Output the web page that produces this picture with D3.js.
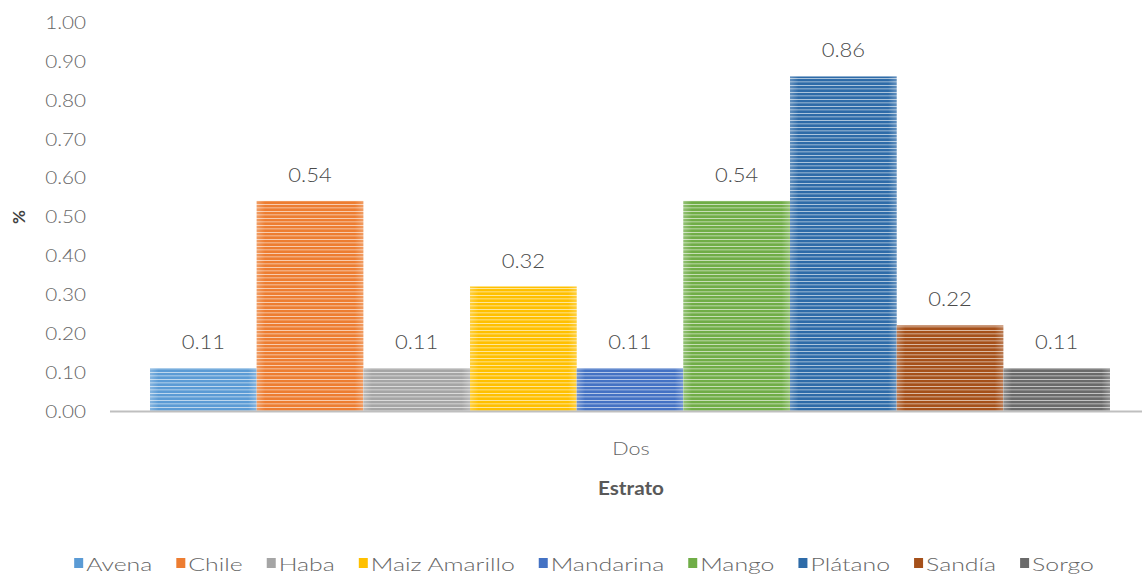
<!DOCTYPE html>
<html><head><meta charset="utf-8">
<script src="https://cdn.jsdelivr.net/npm/d3@7"></script>
<style>body{margin:0;background:#fff}svg{display:block;font-family:Lato,"Open Sans",sans-serif;font-weight:300}</style>
</head><body><svg id="c" width="1145" height="576"></svg>
<script>
const category = ["Dos"];
const seriesNames = ["Avena","Chile","Haba","Maiz Amarillo","Mandarina","Mango","Plátano","Sandía","Sorgo"];
const seriesValues = [0.11,0.54,0.11,0.32,0.11,0.54,0.86,0.22,0.11];
const seriesColors = ["#5B9BD5","#ED7D31","#A5A5A5","#FFC000","#4472C4","#70AD47","#2E6BA8","#A5501A","#6A6A6A"];
const yTicks = [0,0.1,0.2,0.3,0.4,0.5,0.6,0.7,0.8,0.9,1.0];

(function(){
const svg = d3.select("#c");
const axLeft = 110, axRight = 1142, barLeft = 150, barRight = 1110, mTop = 22, mBottom = 411;
const y = d3.scaleLinear().domain([0,1]).range([mBottom, mTop]);
const x0 = d3.scaleBand().domain(category).range([barLeft,barRight]).padding(0);
const x1 = d3.scaleBand().domain(seriesNames).range([0, x0.bandwidth()]).padding(0);

const defs = svg.append("defs");
seriesColors.forEach((c,i)=>{
  const p = defs.append("pattern").attr("id","p"+i).attr("patternUnits","userSpaceOnUse")
    .attr("width",10).attr("height",7);
  p.append("rect").attr("width",10).attr("height",7).attr("fill",c);
  p.append("rect").attr("y",1).attr("width",10).attr("height",1).attr("fill","#fff").attr("opacity",0.6);
  p.append("rect").attr("y",4).attr("width",10).attr("height",1.5).attr("fill","#fff").attr("opacity",0.35);
  const gr = defs.append("linearGradient").attr("id","g"+i).attr("x1",0).attr("x2",1).attr("y1",0).attr("y2",0);
  gr.append("stop").attr("offset",0).attr("stop-color","#fff").attr("stop-opacity",0.25);
  gr.append("stop").attr("offset",0.08).attr("stop-color","#fff").attr("stop-opacity",0);
  gr.append("stop").attr("offset",0.92).attr("stop-color","#fff").attr("stop-opacity",0);
  gr.append("stop").attr("offset",1).attr("stop-color","#fff").attr("stop-opacity",0.25);
});

const yAxis = d3.axisLeft(y).tickValues(yTicks).tickFormat(d3.format(".2f")).tickSize(0).tickPadding(0);
const ga = svg.append("g").attr("transform",`translate(86,0)`).call(yAxis);
ga.select(".domain").remove();
ga.selectAll("text").attr("fill","#666").attr("x",0).attr("dy","0.35em")
  .style("font-size","18px").style("font-family","Lato").style("font-weight","300").attr("transform","scale(1.15,1)");

const g = svg.append("g").attr("transform",`translate(${x0("Dos")},0)`);
g.selectAll("rect.bar").data(seriesNames).join("rect").attr("class","bar")
  .attr("x",d=>x1(d)).attr("width",x1.bandwidth())
  .attr("y",(d,i)=>y(seriesValues[i])).attr("height",(d,i)=>mBottom-y(seriesValues[i]))
  .attr("fill",(d,i)=>`url(#p${i})`);
g.selectAll("rect.sheen").data(seriesNames).join("rect").attr("class","sheen")
  .attr("x",d=>x1(d)).attr("width",x1.bandwidth())
  .attr("y",(d,i)=>y(seriesValues[i])).attr("height",(d,i)=>mBottom-y(seriesValues[i]))
  .attr("fill",(d,i)=>`url(#g${i})`);
g.selectAll("text.lbl").data(seriesNames).join("text").attr("class","lbl")
  .attr("transform",(d,i)=>`translate(${x1(d)+x1.bandwidth()/2},${y(seriesValues[i])-19}) scale(1.1,1)`)
  .attr("text-anchor","middle").attr("fill","#4a4a4a").style("font-size","20px")
  .text((d,i)=>d3.format(".2f")(seriesValues[i]));

svg.append("line").attr("x1",axLeft).attr("x2",axRight).attr("y1",mBottom+0.5).attr("y2",mBottom+0.5)
  .attr("stroke","#bfbfbf").attr("stroke-width",2);
const cxm = 631;
svg.append("text").attr("transform",`translate(${cxm},455) scale(1.2,1)`).attr("text-anchor","middle")
  .attr("fill","#666").style("font-size","18px").text(category[0]);
svg.append("text").attr("transform",`translate(${cxm},495) scale(1.15,1)`).attr("text-anchor","middle")
  .attr("fill","#595959").style("font-size","18px").style("font-weight","bold").text("Estrato");
svg.append("text").attr("transform","translate(25,217) rotate(-90)").attr("text-anchor","middle")
  .attr("fill","#404040").style("font-size","17px").style("font-weight","bold").text("%");

const sx = 1.38;
const lg = svg.append("g");
let cx = 0;
seriesNames.forEach((n,i)=>{
  const it = lg.append("g");
  it.append("rect").attr("x",0).attr("y",-13).attr("width",9).attr("height",10).attr("fill",seriesColors[i]);
  const t = it.append("text").attr("transform",`translate(12,0) scale(${sx},1)`).attr("fill","#666")
    .style("font-size","18px").text(n);
  const w = 12 + t.node().getComputedTextLength()*sx;
  it.attr("transform",`translate(${cx},571)`);
  cx += w + 24;
});
const total = cx - 24;
lg.attr("transform",`translate(${584 - total/2},0)`);
})();
</script></body></html>
